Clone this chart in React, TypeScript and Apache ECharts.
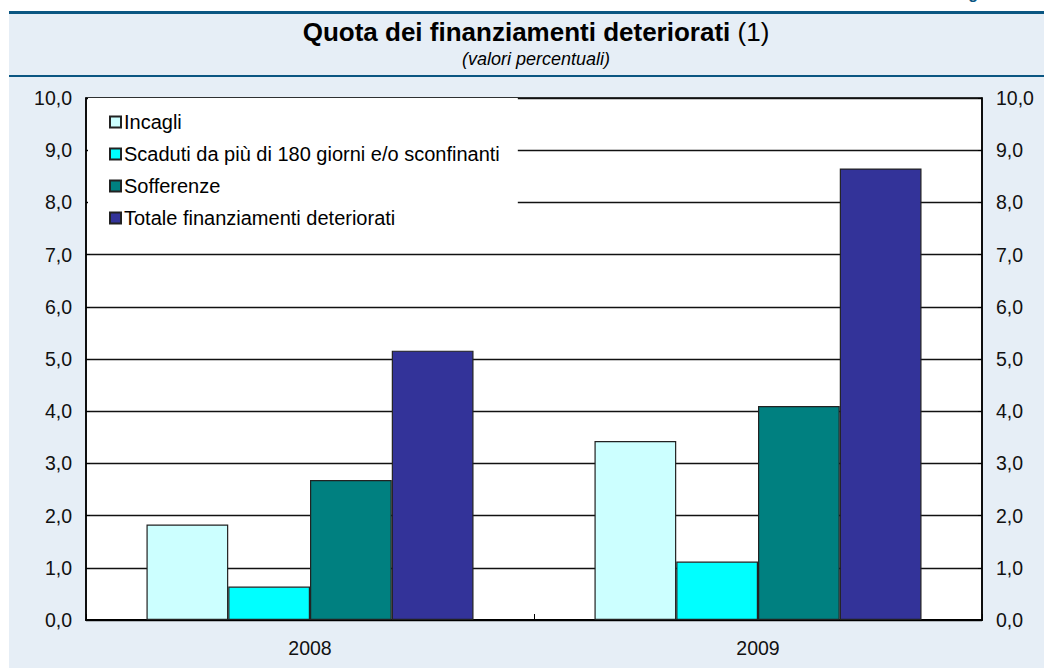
import React, { useEffect, useRef } from "react";
import * as echarts from "echarts";

const categories = ["2008", "2009"];
const seriesNames = [
  "Incagli",
  "Scaduti da più di 180 giorni e/o sconfinanti",
  "Sofferenze",
  "Totale finanziamenti deteriorati",
];
const incagli = [1.83, 3.43];
const scaduti = [0.64, 1.12];
const sofferenze = [2.68, 4.1];
const totale = [5.16, 8.65];
const seriesColors = ["#ccffff", "#00ffff", "#008080", "#333399"];

const fmt = (v: number) => v.toFixed(1).replace(".", ",");

export default function App() {
  const ref = useRef<HTMLDivElement>(null);
  useEffect(() => {
    if (!ref.current) return;
    const chart = echarts.init(ref.current, null, { renderer: "svg" });
    const values = [incagli, scaduti, sofferenze, totale];
    const font = "Arial, 'Liberation Sans', sans-serif";
    const blue = "#0a5682";
    const yAxisBase = {
      type: "value",
      min: 0,
      max: 10,
      interval: 1,
      axisLine: { show: true, lineStyle: { color: "#000", width: 1.5 } },
      axisTick: { show: true, inside: true, length: 4, lineStyle: { color: "#000" } },
      splitLine: { show: true, lineStyle: { color: "#111", width: 1.3 } },
      axisLabel: {
        formatter: (v: number) => fmt(v),
        color: "#111",
        fontSize: 19.5,
        fontFamily: font,
        margin: 14,
      },
    };
    chart.setOption({
      animation: false,
      backgroundColor: "#ffffff",
      graphic: [
        {
          type: "rect",
          z: -10,
          shape: { x: 9, y: 14, width: 1035, height: 654 },
          style: { fill: "#e6eef6" },
        },
        {
          type: "rect",
          z: -9,
          shape: { x: 9, y: 11, width: 1035, height: 3 },
          style: { fill: blue },
        },
        {
          type: "rect",
          z: -9,
          shape: { x: 9, y: 75, width: 1035, height: 2 },
          style: { fill: blue },
        },
        {
          type: "text",
          x: 954,
          y: 1,
          style: {
            text: "Figura",
            fill: blue,
            font: "bold 16px " + font,
            textVerticalAlign: "bottom",
          },
        },
        {
          type: "text",
          x: 536,
          y: 19,
          style: {
            text: "{b|Quota dei finanziamenti deteriorati}{n| (1)}",
            textAlign: "center",
            textVerticalAlign: "top",
            rich: {
              b: { fontSize: 26, fontWeight: "bold", fontFamily: font, fill: "#000" },
              n: { fontSize: 26, fontWeight: "normal", fontFamily: font, fill: "#000" },
            },
          },
        },
        {
          type: "text",
          x: 536,
          y: 50,
          style: {
            text: "(valori percentuali)",
            textAlign: "center",
            textVerticalAlign: "top",
            font: "italic 18px " + font,
            fill: "#000",
          },
        },
      ],
      legend: {
        left: 88,
        top: 98,
        orient: "vertical",
        backgroundColor: "#ffffff",
        padding: [14, 18, 10, 21],
        itemGap: 12,
        itemWidth: 11,
        itemHeight: 11,
        icon: "rect",
        z: 5,
        textStyle: {
          fontSize: 20,
          fontFamily: font,
          color: "#000",
          lineHeight: 20,
          padding: [0, 0, 0, -2],
        },
        data: seriesNames,
      },
      grid: {
        left: 86,
        right: 62,
        top: 98,
        bottom: 48,
        show: true,
        backgroundColor: "#ffffff",
        borderColor: "#000",
        borderWidth: 1.5,
      },
      xAxis: {
        type: "category",
        data: categories,
        axisLine: { show: true, lineStyle: { color: "#000", width: 2 } },
        axisTick: { show: true, inside: true, length: 6, lineStyle: { color: "#000" } },
        axisLabel: { color: "#111", fontSize: 19.5, fontFamily: font, margin: 18 },
        splitLine: { show: false },
      },
      yAxis: [
        { ...yAxisBase, position: "left" },
        { ...yAxisBase, position: "right", splitLine: { show: false } },
      ],
      series: seriesNames.map((name, i) => ({
        name,
        type: "bar",
        data: values[i],
        barGap: "0%",
        barCategoryGap: "27%",
        itemStyle: { color: seriesColors[i], borderColor: "#222", borderWidth: 1.2 },
      })),
    });
    return () => chart.dispose();
  }, []);
  return (
    <div
      ref={ref}
      style={{ position: "fixed", left: 0, top: 0, width: 1044, height: 668 }}
    />
  );
}
